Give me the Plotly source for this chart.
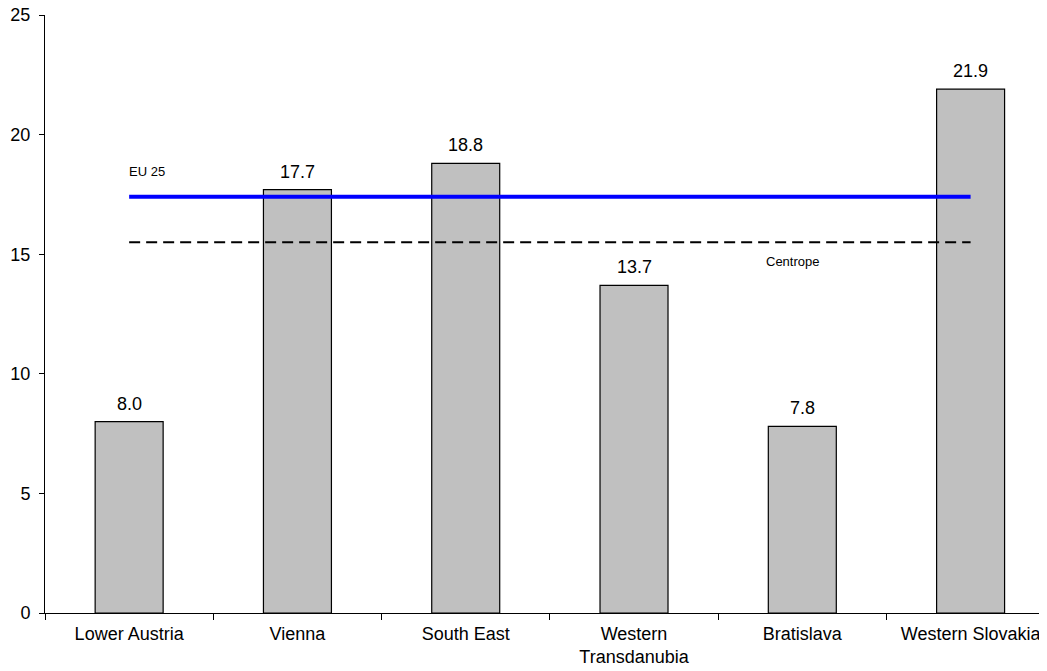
import plotly.graph_objects as go

categories = ["Lower Austria", "Vienna", "South East", "Western<br>Transdanubia", "Bratislava", "Western Slovakia"]
values = [8.0, 17.7, 18.8, 13.7, 7.8, 21.9]
eu25 = 17.4
centrope = 15.5
y_ticks = [0, 5, 10, 15, 20, 25]

font = "Liberation Sans, Arial, sans-serif"

fig = go.Figure()
fig.add_trace(go.Bar(
    x=categories, y=values, width=0.404,
    marker=dict(color="#C0C0C0", line=dict(color="black", width=1.2)),
    showlegend=False,
))
for c, v in zip(categories, values):
    fig.add_annotation(x=c, y=v, text=f"{v:.1f}", showarrow=False,
                       yanchor="bottom", yshift=6,
                       font=dict(family=font, size=18, color="black"))
fig.add_trace(go.Scatter(
    x=[categories[0], categories[-1]], y=[eu25, eu25], mode="lines",
    line=dict(color="#0000FF", width=4), showlegend=False,
))
fig.add_trace(go.Scatter(
    x=[categories[0], categories[-1]], y=[centrope, centrope], mode="lines",
    line=dict(color="black", width=2, dash="11px,6px"), showlegend=False,
))
fig.add_annotation(x=categories[0], y=eu25, text="EU 25", showarrow=False,
                   xanchor="left", yanchor="bottom", yshift=16, xshift=-2,
                   font=dict(family=font, size=13, color="black"))
fig.add_annotation(x=categories[4], y=centrope, text="Centrope", showarrow=False,
                   xanchor="left", yanchor="top", yshift=-10, xshift=-38,
                   font=dict(family=font, size=13, color="black"))

fig.update_layout(
    width=1039, height=663,
    margin=dict(l=37, r=0, t=7, b=58),
    plot_bgcolor="white", paper_bgcolor="white",
    font=dict(family=font, size=18, color="black"),
)
fig.update_xaxes(
    type="category", range=[-0.5, 5.454], tickson="boundaries",
    ticks="outside", ticklen=6, tickcolor="black", showline=True,
    linecolor="black", linewidth=1, showgrid=False, automargin=False,
    ticklabelstandoff=4, ticklabeloverflow="allow",
    tickfont=dict(family=font, size=18, color="black"),
)
fig.update_yaxes(
    range=[0, 25], tickvals=y_ticks, ticks="outside", ticklen=5,
    tickcolor="black", showline=True, linecolor="black", linewidth=1,
    showgrid=False, zeroline=False, automargin=False,
    ticklabelstandoff=5, ticklabeloverflow="allow",
    tickfont=dict(family=font, size=18, color="black"),
)

fig.write_html("out.html")
